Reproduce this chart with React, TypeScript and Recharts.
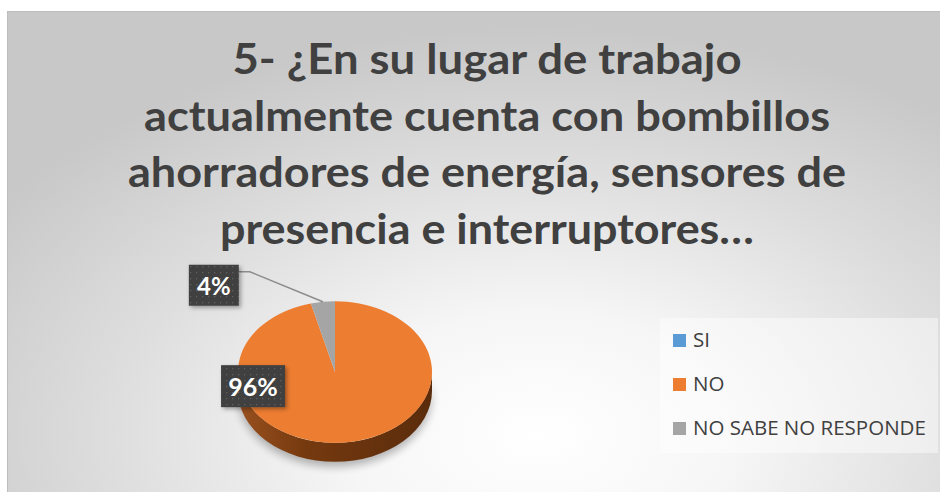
import React from "react";
import { PieChart, Pie, Cell, Legend } from "recharts";

const categories = ["SI", "NO", "NO SABE NO RESPONDE"];
const percentages = [0, 96, 4];
const sliceColors = ["#5B9BD5", "#ED7D31", "#A5A5A5"];
const titleLines = [
  "5- ¿En su lugar de trabajo",
  "actualmente cuenta con bombillos",
  "ahorradores de energía, sensores de",
  "presencia e interruptores…",
];
const titleWidths = [509, 686, 718, 534];

const chartData = categories.map((name, i) => ({ name, value: percentages[i] }));

const TILT = 0.73;
const DEPTH = 19;
const RAD = Math.PI / 180;

function pt(cx: number, cy: number, r: number, a: number, dy = 0) {
  return [cx + r * Math.cos(-a * RAD), cy + TILT * r * Math.sin(-a * RAD) + dy];
}

function EllipseSector(props: any) {
  const { cx, cy, outerRadius: r, startAngle, endAngle, fill, index } = props;
  if (Math.abs(startAngle - endAngle) < 0.01) return null;
  const rx = r;
  const ry = r * TILT;
  const sweep = startAngle > endAngle ? 1 : 0;
  const large = Math.abs(startAngle - endAngle) > 180 ? 1 : 0;
  const [x1, y1] = pt(cx, cy, r, startAngle);
  const [x2, y2] = pt(cx, cy, r, endAngle);
  const top = `M${cx},${cy} L${x1},${y1} A${rx},${ry} 0 ${large} ${sweep} ${x2},${y2} Z`;

  // front side (bottom half of the ellipse) of this slice
  const lo = Math.min(startAngle, endAngle);
  const hi = Math.max(startAngle, endAngle);
  let side: string | null = null;
  for (const [b0, b1] of [[-540, -360], [-180, 0], [180, 360]]) {
    const a0 = Math.max(lo, b0);
    const a1 = Math.min(hi, b1);
    if (a1 - a0 > 0.01) {
      const [sx1, sy1] = pt(cx, cy, r, a1);
      const [sx2, sy2] = pt(cx, cy, r, a0);
      side =
        `M${sx1},${sy1} A${rx},${ry} 0 0 1 ${sx2},${sy2} ` +
        `L${sx2},${sy2 + DEPTH} A${rx},${ry} 0 0 0 ${sx1},${sy1 + DEPTH} Z`;
    }
  }
  const gid = `side-${index}`;
  return (
    <g>
      <defs>
        <linearGradient id={gid} x1="0" y1="0" x2="1" y2="0">
          <stop offset="0%" stopColor="#9a511f" />
          <stop offset="35%" stopColor="#75390f" />
          <stop offset="100%" stopColor="#5a2c0c" />
        </linearGradient>
        <filter id={`blur-${index}`} x="-20%" y="-20%" width="140%" height="160%">
          <feGaussianBlur stdDeviation="4" />
        </filter>
      </defs>
      {side && (
        <path d={side} transform="translate(0,5)" fill="#000" opacity={0.28} filter={`url(#blur-${index})`} />
      )}
      {side && <path d={side} fill={`url(#${gid})`} />}
      <path d={top} fill={fill} />
    </g>
  );
}

function DotBox({ x, y, w, h, text, size }: any) {
  const pid = `dots-${text.replace("%", "")}`;
  return (
    <g>
      <defs>
        <pattern id={pid} width="6" height="6" patternUnits="userSpaceOnUse">
          <rect width="6" height="6" fill="#404040" />
          <rect x="2" y="2" width="1.3" height="1.3" fill="#5e5e5e" />
        </pattern>
        <filter id={`sh-${pid}`} x="-20%" y="-20%" width="150%" height="150%">
          <feDropShadow dx="2" dy="2" stdDeviation="2" floodColor="#000" floodOpacity="0.35" />
        </filter>
      </defs>
      <rect x={x} y={y} width={w} height={h} fill={`url(#${pid})`} filter={`url(#sh-${pid})`} />
      <text
        x={x + w / 2}
        y={y + h / 2}
        textAnchor="middle"
        dominantBaseline="central"
        fill="#ffffff"
        fontFamily="Lato, 'Open Sans', sans-serif"
        fontWeight="bold"
        fontSize={size}
      >
        {text}
      </text>
    </g>
  );
}

function renderLabel(props: any) {
  const { cx, cy, outerRadius: r, midAngle, index, value } = props;
  if (!value) return null;
  const text = `${value}%`;
  if (index === 1) {
    const bx = cx - 0.845 * r;
    const by = cy + 0.2 * r * TILT;
    return <DotBox x={bx - 32} y={by - 21} w={64} h={42} text={text} size={25} />;
  }
  const [ex, ey] = pt(cx, cy, r, midAngle);
  const bx = ex - 109;
  const by = ey - 17;
  return (
    <g>
      <polyline
        points={`${bx + 25},${by - 13} ${bx + 36},${by - 13} ${ex},${ey}`}
        fill="none"
        stroke="#8c8c8c"
        strokeWidth={1.5}
      />
      <DotBox x={bx - 25} y={by - 20} w={50} h={41} text={text} size={24} />
    </g>
  );
}

function LegendBox() {
  return (
    <div style={{ width: 278, height: 135, background: "rgba(255,255,255,0.45)" }}>
      <svg width={278} height={135}>
        {categories.map((c, i) => (
          <g key={c}>
            <rect x={13} y={16 + i * 44} width={13} height={13} fill={sliceColors[i]} />
            <text
              x={33}
              y={29 + i * 44}
              fill="#404040"
              fontFamily="'Open Sans', sans-serif"
              fontSize={20.5}
            >
              {c}
            </text>
          </g>
        ))}
      </svg>
    </div>
  );
}

export default function App() {
  return (
    <div style={{ position: "absolute", left: 0, top: 0, width: 940, height: 492, background: "#fff", overflow: "hidden" }}>
      <div
        style={{
          position: "absolute",
          left: 7,
          top: 11,
          width: 932,
          height: 481,
          borderTop: "1px solid #bdbdbd",
          borderLeft: "1px solid #bdbdbd",
          background:
            "radial-gradient(ellipse 70% 85% at 57% 88%, #ffffff 0%, #f6f6f6 30%, #dedede 65%, #c8c8c8 100%)",
        }}
      >
        <svg width={932} height={260} style={{ position: "absolute", left: 0, top: 0 }}>
          {titleLines.map((line, i) => (
            <text
              key={i}
              x={479}
              y={62 + i * 56.5}
              textAnchor="middle"
              textLength={titleWidths[i]}
              lengthAdjust="spacingAndGlyphs"
              fill="#404040"
              fontFamily="Lato, 'Open Sans', sans-serif"
              fontWeight="bold"
              fontSize={42}
            >
              {line}
            </text>
          ))}
        </svg>
        <div style={{ position: "absolute", left: 0, top: 0 }}>
          <PieChart width={932} height={481} margin={{ top: 0, right: 0, bottom: 0, left: 0 }}>
            <Pie
              data={chartData}
              dataKey="value"
              nameKey="name"
              cx={327}
              cy={360}
              outerRadius={97}
              startAngle={90}
              endAngle={-270}
              stroke="none"
              shape={EllipseSector}
              label={renderLabel}
              labelLine={false}
              isAnimationActive={false}
            >
              {chartData.map((d, i) => (
                <Cell key={d.name} fill={sliceColors[i]} />
              ))}
            </Pie>
            <Legend
              content={() => <LegendBox />}
              wrapperStyle={{ position: "absolute", left: 652, top: 306, width: 278, height: 135 }}
            />
          </PieChart>
        </div>
      </div>
    </div>
  );
}
